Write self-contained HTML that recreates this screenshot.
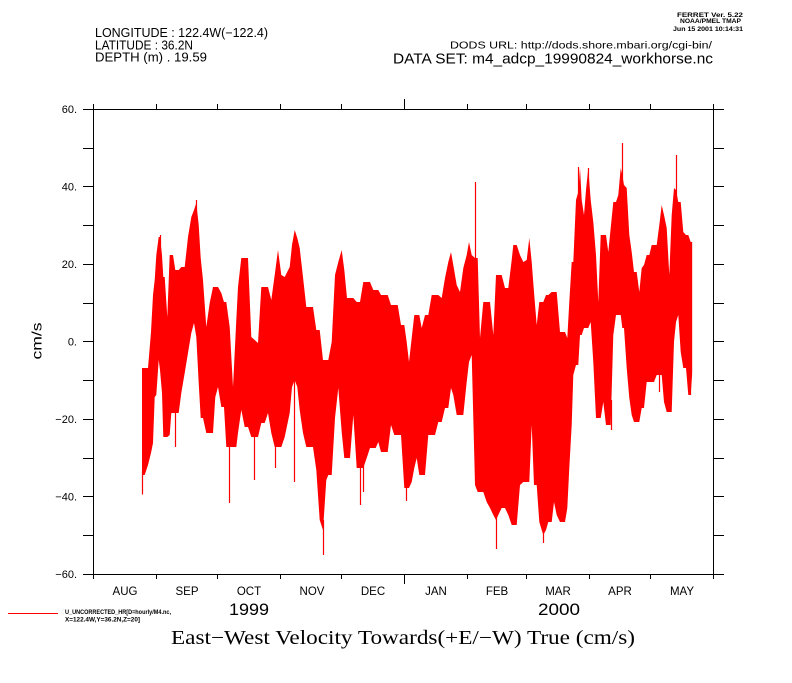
<!DOCTYPE html>
<html>
<head>
<meta charset="utf-8">
<style>
html,body{margin:0;padding:0;background:#fff;}
svg{display:block;}
text{font-family:"Liberation Sans",sans-serif;fill:#000;}
.ser{font-family:"Liberation Serif",serif;}
</style>
</head>
<body>
<svg width="792" height="683" viewBox="0 0 792 683" xmlns="http://www.w3.org/2000/svg">
<defs>
<clipPath id="below">
<polygon points="142,368 144.7,368 148,368 151,332 153,295 154.7,280 156.3,255 158.7,237 160,237 162,255 163.3,277 164.7,277 167.3,317 169.7,255 171.3,255 173,255 175.3,270 178.7,270 181.3,267 184.7,267 188,237 191.3,217 194,210 196.3,203 198.7,225 200.7,258 203,280 206.3,327 209.7,303 213,287 215.3,287 218,287 221.3,293 224,302 226.3,302 229.7,327 233,387 236.3,320 238,287 241.3,258 244.7,258 248,258 251.3,337 254.7,340 258,343 261.3,287 264.7,287 268,287 271.3,300 274.7,275 278,250 281.3,275 284.7,277 289.7,267 292,245 294.7,230 297.3,238 299.7,248 303,277 306.3,307 309.7,307 313,307 316.3,330 319.7,330 323,360 326.3,360 328.3,360 331.7,342 335,275 338.3,262 341.7,250 344.3,270 347,298 350,298 353.3,298 356.7,302 360,302 363.3,282 366.7,282 370,282 373.3,290 375.7,290 378.3,290 381,295 384.3,295 387.7,295 391,305 394.3,305 397.7,305 401,325 404.3,325 406.7,342 409,362 411.7,338 414.3,315 416.7,315 419.3,315 421.7,328 425,315 428.3,315 431.7,295 435,295 438.3,295 441.7,298 445,278 448.3,262 451,252 453.3,265 456.7,285 460,292 463.3,268 466.7,255 469,242 471.7,255 475,258 477.7,258 480,338 483.3,302 486.7,302 490,302 493.3,335 496,275 498.3,275 501.7,275 505,288 508.3,288 511.7,260 513.3,245 516.7,245 520,255 523.3,262 526.7,260 529.3,238 531.7,262 534,292 536.7,325 539.3,302 541.7,302 543.3,302 546,295 548.3,295 551.7,292 554,292 556.7,292 560,332 562.7,332 565,332 567.3,338 569.3,302 571.7,262 573.3,262 576,200 578.3,192 580,168 581.7,200 584,215 586,190 588.3,168 590.7,200 593.3,222 596,255 598.3,302 600.7,235 603.3,235 606,235 608.3,252 610.7,228 613.3,202 616,202 618.3,195 620.7,168 622.3,175 624,185 626.7,188 629.3,235 631.7,252 634,272 636.7,272 639.3,292 641.7,268 644,265 646.7,255 649.3,255 651.7,245 654,245 656.7,245 659.3,225 661.7,205 664,215 666.7,228 669.3,275 671.7,215 674,188 676,190 678.3,202 680.7,202 683.3,232 686,235 688.3,235 690.7,242 692.3,242 692.3,590 142,590"/>
</clipPath>
</defs>
<rect x="0" y="0" width="792" height="683" fill="#fff"/>

<!-- header text -->
<text x="95" y="37" font-size="12.5" textLength="173" lengthAdjust="spacingAndGlyphs">LONGITUDE : 122.4W(−122.4)</text>
<text x="95" y="49.3" font-size="12.5" textLength="98" lengthAdjust="spacingAndGlyphs">LATITUDE : 36.2N</text>
<text x="95" y="61.3" font-size="12.5" textLength="112" lengthAdjust="spacingAndGlyphs">DEPTH (m) . 19.59</text>

<text x="677" y="17" font-size="6.5" font-weight="bold" textLength="66" lengthAdjust="spacingAndGlyphs">FERRET Ver. 5.22</text>
<text x="680" y="23" font-size="6.5" font-weight="bold" textLength="61" lengthAdjust="spacingAndGlyphs">NOAA/PMEL TMAP</text>
<text x="673" y="31" font-size="6.5" font-weight="bold" textLength="70" lengthAdjust="spacingAndGlyphs">Jun 15 2001 10:14:31</text>

<text x="450" y="48.3" font-size="10.5" textLength="262" lengthAdjust="spacingAndGlyphs">DODS URL: http://dods.shore.mbari.org/cgi-bin/</text>
<text x="393" y="63.3" font-size="14.5" textLength="320" lengthAdjust="spacingAndGlyphs">DATA SET: m4_adcp_19990824_workhorse.nc</text>

<!-- data -->
<polygon clip-path="url(#below)" fill="#ff0000" points="142,475 144.7,475 148,465 151,453 153,443 154.7,397 156.3,395 158.7,360 160,370 162,393 163.3,437 164.7,437 167.3,437 169.7,435 171.3,413 173,413 175.3,413 178.7,413 181.3,393 184.7,373 188,353 191.3,333 194,323 196.3,337 198.7,383 200.7,418 203,418 206.3,433 209.7,433 213,433 215.3,397 218,387 221.3,407 224,407 226.3,447 229.7,447 233,447 236.3,447 238,433 241.3,410 244.7,427 248,427 251.3,437 254.7,437 258,437 261.3,423 264.7,423 268,413 271.3,433 274.7,447 278,447 281.3,447 284.7,437 289.7,413 292,387 294.7,380 297.3,387 299.7,410 303,433 306.3,447 309.7,447 313,447 316.3,470 319.7,520 323,530 326.3,480 328.3,475 331.7,475 335,418 338.3,388 341.7,432 344.3,458 347,458 350,458 353.3,415 356.7,468 360,468 363.3,468 366.7,458 370,448 373.3,448 375.7,448 378.3,442 381,452 384.3,452 387.7,452 391,425 394.3,435 397.7,435 401,435 404.3,488 406.7,488 409,488 411.7,482 414.3,468 416.7,458 419.3,475 421.7,475 425,475 428.3,435 431.7,435 435,435 438.3,422 441.7,422 445,408 448.3,408 451,388 453.3,395 456.7,415 460,415 463.3,415 466.7,382 469,362 471.7,355 475,485 477.7,492 480,492 483.3,492 486.7,502 490,508 493.3,515 496,520 498.3,515 501.7,508 505,508 508.3,515 511.7,525 513.3,525 516.7,525 520,485 523.3,482 526.7,482 529.3,482 531.7,425 534,485 536.7,485 539.3,522 541.7,530 543.3,535 546,530 548.3,522 551.7,522 554,502 556.7,515 560,522 562.7,522 565,522 567.3,508 569.3,468 571.7,425 573.3,375 576,365 578.3,365 580,335 581.7,335 584,328 586,328 588.3,328 590.7,322 593.3,362 596,418 598.3,418 600.7,418 603.3,402 606,425 608.3,425 610.7,425 613.3,335 616,315 618.3,315 620.7,315 622.3,328 624,328 626.7,368 629.3,398 631.7,415 634,422 636.7,422 639.3,422 641.7,408 644,408 646.7,382 649.3,382 651.7,382 654,382 656.7,375 659.3,375 661.7,375 664,402 666.7,412 669.3,412 671.7,412 674,342 676,322 678.3,315 680.7,352 683.3,368 686,368 688.3,395 690.7,395 692.3,372 692.3,100 142,100"/>

<g stroke="#ff0000" stroke-width="1.2">
<line x1="142.5" y1="470" x2="142.5" y2="494.5"/>
<line x1="175.5" y1="410" x2="175.5" y2="447"/>
<line x1="229.5" y1="440" x2="229.5" y2="503"/>
<line x1="254.5" y1="430" x2="254.5" y2="480"/>
<line x1="294.5" y1="380" x2="294.5" y2="482"/>
<line x1="323.5" y1="520" x2="323.5" y2="555"/>
<line x1="360.5" y1="460" x2="360.5" y2="505"/>
<line x1="363.5" y1="450" x2="363.5" y2="492"/>
<line x1="475.5" y1="182" x2="475.5" y2="262"/>
<line x1="496.5" y1="515" x2="496.5" y2="549"/>
<line x1="622.5" y1="143" x2="622.5" y2="190"/>
<line x1="676.5" y1="155" x2="676.5" y2="205"/>
<line x1="659.5" y1="360" x2="659.5" y2="392"/>
<line x1="611.5" y1="400" x2="611.5" y2="430"/>
<line x1="543.5" y1="520" x2="543.5" y2="543"/>
<line x1="406.5" y1="480" x2="406.5" y2="501"/>
<line x1="275.5" y1="420" x2="275.5" y2="468"/>
<line x1="196.5" y1="200" x2="196.5" y2="230"/>
<line x1="578.5" y1="167" x2="578.5" y2="200"/>
<line x1="588.5" y1="168" x2="588.5" y2="200"/>
<line x1="160.5" y1="235" x2="160.5" y2="260"/>
<line x1="690.5" y1="360" x2="690.5" y2="395"/>
</g>

<!-- axes -->
<g stroke="#000" stroke-width="1" fill="none" shape-rendering="crispEdges">
<rect x="93.5" y="109.5" width="620" height="465"/>
<line x1="93.5" y1="104" x2="93.5" y2="109.5"/>
<line x1="156.5" y1="104" x2="156.5" y2="109.5"/>
<line x1="217.5" y1="104" x2="217.5" y2="109.5"/>
<line x1="280.5" y1="104" x2="280.5" y2="109.5"/>
<line x1="341.5" y1="104" x2="341.5" y2="109.5"/>
<line x1="404.5" y1="99" x2="404.5" y2="109.5"/>
<line x1="467.5" y1="104" x2="467.5" y2="109.5"/>
<line x1="526.5" y1="104" x2="526.5" y2="109.5"/>
<line x1="589.5" y1="104" x2="589.5" y2="109.5"/>
<line x1="650.5" y1="104" x2="650.5" y2="109.5"/>
<line x1="713.5" y1="104" x2="713.5" y2="109.5"/>
<line x1="93.5" y1="574.5" x2="93.5" y2="579"/>
<line x1="156.5" y1="574.5" x2="156.5" y2="579"/>
<line x1="217.5" y1="574.5" x2="217.5" y2="579"/>
<line x1="280.5" y1="574.5" x2="280.5" y2="579"/>
<line x1="341.5" y1="574.5" x2="341.5" y2="579"/>
<line x1="404.5" y1="574.5" x2="404.5" y2="584"/>
<line x1="467.5" y1="574.5" x2="467.5" y2="579"/>
<line x1="526.5" y1="574.5" x2="526.5" y2="579"/>
<line x1="589.5" y1="574.5" x2="589.5" y2="579"/>
<line x1="650.5" y1="574.5" x2="650.5" y2="579"/>
<line x1="713.5" y1="574.5" x2="713.5" y2="579"/>
<line x1="83" y1="109.5" x2="93.5" y2="109.5"/>
<line x1="83" y1="148.5" x2="93.5" y2="148.5"/>
<line x1="83" y1="186.5" x2="93.5" y2="186.5"/>
<line x1="83" y1="225.5" x2="93.5" y2="225.5"/>
<line x1="83" y1="264.5" x2="93.5" y2="264.5"/>
<line x1="83" y1="303.5" x2="93.5" y2="303.5"/>
<line x1="83" y1="341.5" x2="93.5" y2="341.5"/>
<line x1="83" y1="380.5" x2="93.5" y2="380.5"/>
<line x1="83" y1="419.5" x2="93.5" y2="419.5"/>
<line x1="83" y1="458.5" x2="93.5" y2="458.5"/>
<line x1="83" y1="496.5" x2="93.5" y2="496.5"/>
<line x1="83" y1="535.5" x2="93.5" y2="535.5"/>
<line x1="83" y1="574.5" x2="93.5" y2="574.5"/>
<line x1="713.5" y1="109.5" x2="724" y2="109.5"/>
<line x1="713.5" y1="148.5" x2="724" y2="148.5"/>
<line x1="713.5" y1="186.5" x2="724" y2="186.5"/>
<line x1="713.5" y1="225.5" x2="724" y2="225.5"/>
<line x1="713.5" y1="264.5" x2="724" y2="264.5"/>
<line x1="713.5" y1="303.5" x2="724" y2="303.5"/>
<line x1="713.5" y1="341.5" x2="724" y2="341.5"/>
<line x1="713.5" y1="380.5" x2="724" y2="380.5"/>
<line x1="713.5" y1="419.5" x2="724" y2="419.5"/>
<line x1="713.5" y1="458.5" x2="724" y2="458.5"/>
<line x1="713.5" y1="496.5" x2="724" y2="496.5"/>
<line x1="713.5" y1="535.5" x2="724" y2="535.5"/>
<line x1="713.5" y1="574.5" x2="724" y2="574.5"/>
</g>

<!-- y labels -->
<g font-size="11" text-anchor="end">
<text x="77" y="113">60.</text>
<text x="77" y="190.5">40.</text>
<text x="77" y="268">20.</text>
<text x="77" y="345.5">0.</text>
<text x="77" y="423">−20.</text>
<text x="77" y="500.5">−40.</text>
<text x="77" y="578">−60.</text>
</g>
<text transform="translate(41.5,341) rotate(-90)" font-size="14" text-anchor="middle" textLength="37" lengthAdjust="spacingAndGlyphs">cm/s</text>

<!-- month labels -->
<g font-size="11.5" text-anchor="middle">
<text x="125" y="595">AUG</text>
<text x="187" y="595">SEP</text>
<text x="249" y="595">OCT</text>
<text x="312" y="595">NOV</text>
<text x="373" y="595">DEC</text>
<text x="436" y="595">JAN</text>
<text x="497" y="595">FEB</text>
<text x="558" y="595">MAR</text>
<text x="620" y="595">APR</text>
<text x="682" y="595">MAY</text>
</g>
<text x="229" y="615" font-size="16.5" textLength="40" lengthAdjust="spacingAndGlyphs">1999</text>
<text x="538" y="615" font-size="16.5" textLength="42" lengthAdjust="spacingAndGlyphs">2000</text>

<!-- legend -->
<line x1="8" y1="613.5" x2="58" y2="613.5" stroke="#ff0000" stroke-width="1"/>
<text x="65" y="614" font-size="6.5" font-weight="bold" textLength="106" lengthAdjust="spacingAndGlyphs">U_UNCORRECTED_HR[D=hourly/M4.nc,</text>
<text x="65" y="621.5" font-size="6.5" font-weight="bold" textLength="75" lengthAdjust="spacingAndGlyphs">X=122.4W,Y=36.2N,Z=20]</text>

<!-- title -->
<text class="ser" x="171" y="644" font-size="20" textLength="464" lengthAdjust="spacingAndGlyphs">East−West Velocity Towards(+E/−W) True (cm/s)</text>
</svg>
</body>
</html>
